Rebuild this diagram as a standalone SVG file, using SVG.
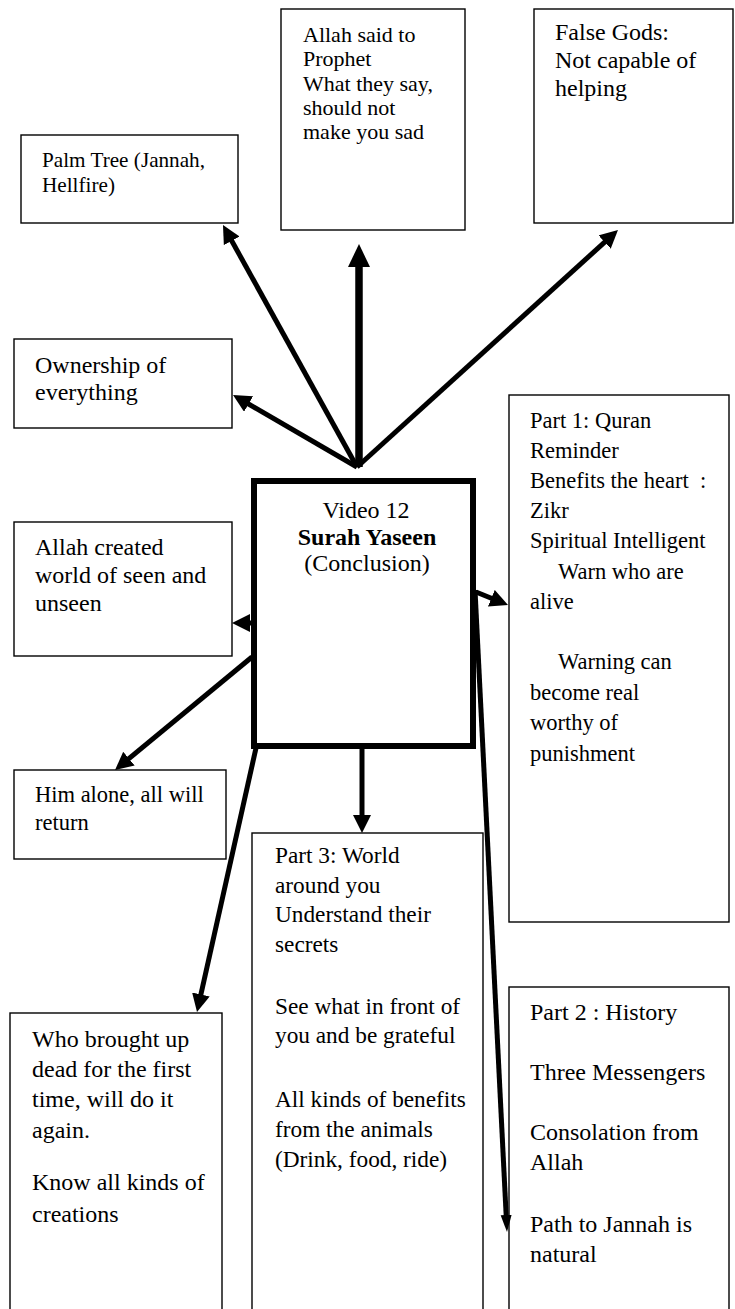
<svg xmlns="http://www.w3.org/2000/svg" width="735" height="1309" viewBox="0 0 735 1309">
<style>
  .box { fill: #fff; stroke: #000; stroke-width: 1.4; }
  .main { fill: #fff; stroke: #000; stroke-width: 6; }
  text { font-family: "Liberation Serif", "Times New Roman", serif; fill: #000; }
  .t24 { font-size: 24px; }
  .t23 { font-size: 23.3px; }
  .t225 { font-size: 22.5px; }
  .t22 { font-size: 22px; }
  .t21 { font-size: 21.2px; }
  .ln { stroke: #000; stroke-width: 5; fill: none; }
  .ln7 { stroke: #000; stroke-width: 7.5; fill: none; }
</style>
<defs>
  <marker id="ah" markerUnits="userSpaceOnUse" markerWidth="20" markerHeight="20" refX="6" refY="9" orient="auto">
    <path d="M0,0 L18,9 L0,18 z" fill="#000"/>
  </marker>
  <marker id="ahBig" markerUnits="userSpaceOnUse" markerWidth="26" markerHeight="26" refX="9" refY="11" orient="auto">
    <path d="M0,0 L23,11 L0,22 z" fill="#000"/>
  </marker>
  <marker id="ahSlim" markerUnits="userSpaceOnUse" markerWidth="20" markerHeight="14" refX="5" refY="5.5" orient="auto">
    <path d="M0,0 L17,5.5 L0,11 z" fill="#000"/>
  </marker>
</defs>
<rect width="735" height="1309" fill="#fff"/>

<g id="palm-tree">
  <rect class="box" x="21" y="135" width="217" height="88"/>
  <text class="t21" x="42" y="167">Palm Tree (Jannah,</text>
  <text class="t21" x="42" y="192">Hellfire)</text>
</g>

<g id="allah-said">
  <rect class="box" x="281" y="9" width="184" height="221"/>
  <text class="t22" x="303" y="42">Allah said to</text>
  <text class="t22" x="303" y="66">Prophet</text>
  <text class="t22" x="303" y="91">What they say,</text>
  <text class="t22" x="303" y="115">should not</text>
  <text class="t22" x="303" y="139">make you sad</text>
</g>

<g id="false-gods">
  <rect class="box" x="534" y="9" width="199" height="214"/>
  <text class="t24" x="555" y="40">False Gods:</text>
  <text class="t24" x="555" y="68">Not capable of</text>
  <text class="t24" x="555" y="96">helping</text>
</g>

<g id="ownership">
  <rect class="box" x="14" y="339" width="218" height="89"/>
  <text class="t24" x="35" y="373">Ownership of</text>
  <text class="t24" x="35" y="400">everything</text>
</g>

<g id="allah-created">
  <rect class="box" x="14" y="522" width="218" height="134"/>
  <text class="t24" x="35" y="555">Allah created</text>
  <text class="t24" x="35" y="583">world of seen and</text>
  <text class="t24" x="35" y="611">unseen</text>
</g>

<g id="him-alone">
  <rect class="box" x="14" y="770" width="212" height="89"/>
  <text class="t225" x="35" y="802">Him alone, all will</text>
  <text class="t225" x="35" y="830">return</text>
</g>

<g id="who-brought">
  <rect class="box" x="10" y="1013" width="212" height="310"/>
  <text class="t24" x="32" y="1047">Who brought up</text>
  <text class="t24" x="32" y="1077">dead for the first</text>
  <text class="t24" x="32" y="1107">time, will do it</text>
  <text class="t24" x="32" y="1138">again.</text>
  <text class="t24" x="32" y="1190">Know all kinds of</text>
  <text class="t24" x="32" y="1222">creations</text>
</g>

<g id="center">
  <rect class="main" x="254" y="481" width="219" height="265"/>
  <text class="t24" x="366" y="518" text-anchor="middle">Video 12</text>
  <text class="t24" x="367" y="545" text-anchor="middle" font-weight="bold">Surah Yaseen</text>
  <text class="t24" x="367" y="571" text-anchor="middle">(Conclusion)</text>
</g>

<g id="part3">
  <rect class="box" x="252" y="833" width="231" height="490"/>
  <text class="t23" x="275" y="863">Part 3: World</text>
  <text class="t23" x="275" y="893">around you</text>
  <text class="t23" x="275" y="922">Understand their</text>
  <text class="t23" x="275" y="952">secrets</text>
  <text class="t23" x="275" y="1014">See what in front of</text>
  <text class="t23" x="275" y="1043">you and be grateful</text>
  <text class="t23" x="275" y="1107">All kinds of benefits</text>
  <text class="t23" x="275" y="1137">from the animals</text>
  <text class="t23" x="275" y="1167">(Drink, food, ride)</text>
</g>

<g id="part1">
  <rect class="box" x="509" y="395" width="220" height="527"/>
  <text class="t225" x="530" y="428">Part 1: Quran</text>
  <text class="t225" x="530" y="458">Reminder</text>
  <text class="t225" x="530" y="488" xml:space="preserve">Benefits the heart  :</text>
  <text class="t225" x="530" y="518">Zikr</text>
  <text class="t225" x="530" y="548">Spiritual Intelligent</text>
  <text class="t225" x="558" y="579">Warn who are</text>
  <text class="t225" x="530" y="609">alive</text>
  <text class="t225" x="558" y="669">Warning can</text>
  <text class="t225" x="530" y="700">become real</text>
  <text class="t225" x="530" y="730">worthy of</text>
  <text class="t225" x="530" y="761">punishment</text>
</g>

<g id="part2">
  <rect class="box" x="509" y="987" width="220" height="336"/>
  <text class="t24" x="530" y="1020">Part 2 : History</text>
  <text class="t24" x="530" y="1080">Three Messengers</text>
  <text class="t24" x="530" y="1140">Consolation from</text>
  <text class="t24" x="530" y="1170">Allah</text>
  <text class="t24" x="530" y="1232">Path to Jannah is</text>
  <text class="t24" x="530" y="1262">natural</text>
</g>

<g id="connectors">
  <line class="ln" x1="357" y1="467" x2="228.8" y2="235.5" marker-end="url(#ah)"/>
  <line class="ln7" x1="359" y1="467" x2="359" y2="258" marker-end="url(#ahBig)"/>
  <line class="ln" x1="357" y1="467" x2="609.1" y2="238.1" marker-end="url(#ah)"/>
  <line class="ln" x1="357" y1="467" x2="243.4" y2="401" marker-end="url(#ah)"/>
  <line class="ln" x1="254" y1="623" x2="244" y2="623" marker-end="url(#ah)"/>
  <line class="ln" x1="252" y1="657" x2="124.3" y2="762.4" marker-end="url(#ah)"/>
  <line class="ln" x1="256" y1="748" x2="199.6" y2="1000.3" marker-end="url(#ah)"/>
  <line class="ln" x1="362" y1="748" x2="362" y2="821" marker-end="url(#ah)"/>
  <line class="ln" x1="476" y1="592" x2="496.9" y2="600.5" marker-end="url(#ah)"/>
  <line class="ln" x1="475" y1="590" x2="506.4" y2="1220" marker-end="url(#ahSlim)"/>
</g>
</svg>
